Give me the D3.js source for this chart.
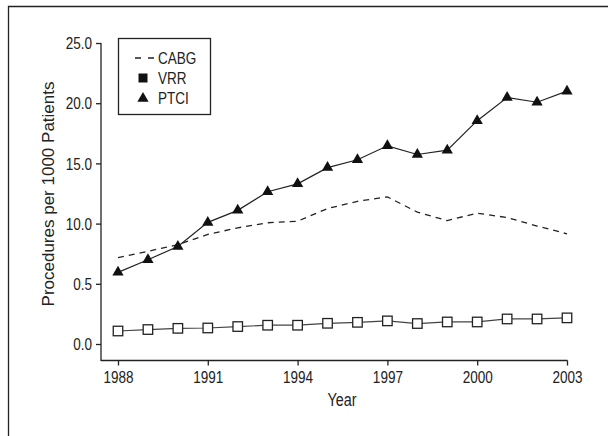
<!DOCTYPE html>
<html>
<head>
<meta charset="utf-8">
<script src="https://cdn.jsdelivr.net/npm/d3@7"></script>
<style>
    body { margin: 0; background: #fff; }
    svg { display: block; }
    text { font-family: "Liberation Sans", Arial, sans-serif; fill: #222; }
</style>
</head>
<body>
<div id="chart"></div>
<script>
    // chart data
    var years = [1988, 1989, 1990, 1991, 1992, 1993, 1994, 1995, 1996, 1997, 1998, 1999, 2000, 2001, 2002, 2003];
    var cabg = [7.17, 7.7, 8.25, 9.1, 9.65, 10.07, 10.2, 11.25, 11.85, 12.22, 10.95, 10.25, 10.87, 10.5, 9.8, 9.15];
    var vrr = [1.08, 1.2, 1.3, 1.33, 1.45, 1.56, 1.56, 1.72, 1.8, 1.92, 1.7, 1.83, 1.83, 2.08, 2.08, 2.17];
    var ptci = [5.95, 7.0, 8.1, 10.1, 11.1, 12.65, 13.3, 14.65, 15.3, 16.46, 15.74, 16.1, 18.55, 20.47, 20.08, 21.0];
    var xTicks = [1988, 1991, 1994, 1997, 2000, 2003];
    var yTicks = [0, 5, 10, 15, 20, 25];
    var yTickLabels = ["0.0", "0.5", "10.0", "15.0", "20.0", "25.0"];
    var legendNames = ["CABG", "VRR", "PTCI"];

    var width = 608, height = 436;
    var ink = "#222";
    var sx = 0.82; // horizontal squeeze to mimic the narrow typeface

    var svg = d3.select("#chart").append("svg")
        .attr("width", width)
        .attr("height", height);

    // outer frame (left and top edges only are visible)
    svg.append("path")
        .attr("d", "M8.5," + height + "V6.5H" + width)
        .attr("fill", "none")
        .attr("stroke", ink)
        .attr("stroke-width", 1.3);

    var xScale = d3.scaleLinear().domain([1988, 2003]).range([118, 567]);
    var yScale = d3.scaleLinear().domain([0, 25]).range([344, 43]);
    var axisY = 360.5, axisX = 101;

    // x-axis
    var xAxis = d3.axisBottom(xScale)
        .tickValues(xTicks)
        .tickFormat(d3.format("d"))
        .tickSizeInner(5)
        .tickSizeOuter(0);

    var gx = svg.append("g")
        .attr("transform", "translate(0," + axisY + ")")
        .call(xAxis);
    gx.select(".domain").attr("d", "M" + axisX + ",0H" + (xScale(2003) + 0.5));
    gx.selectAll(".tick text")
        .attr("y", 22.5)
        .attr("dy", null);

    // y-axis
    var yAxis = d3.axisLeft(yScale)
        .tickValues(yTicks)
        .tickFormat(function (d, i) { return yTickLabels[i]; })
        .tickSizeInner(5)
        .tickSizeOuter(0);

    var gy = svg.append("g")
        .attr("transform", "translate(" + axisX + ",0)")
        .call(yAxis);
    gy.select(".domain").attr("d", "M0," + yScale(25) + "V" + (axisY + 0.5));
    gy.selectAll(".tick text")
        .attr("x", -9 / sx)
        .attr("dy", "0.35em");

    svg.selectAll(".domain, .tick line")
        .attr("stroke", ink)
        .attr("stroke-width", 1.3);
    svg.selectAll(".tick text")
        .style("font-size", "16.5px")
        .attr("fill", ink)
        .attr("transform", "scale(" + sx + ",1)");

    // axis titles
    svg.append("text")
        .attr("transform", "translate(342,406) scale(" + sx + ",1)")
        .attr("text-anchor", "middle")
        .style("font-size", "17.5px")
        .text("Year");

    svg.append("text")
        .attr("transform", "translate(54,194) rotate(-90)")
        .attr("text-anchor", "middle")
        .style("font-size", "17px")
        .text("Procedures per 1000 Patients");

    function series(values) {
        return values.map(function (v, i) { return { x: years[i], y: v }; });
    }

    var line = d3.line()
        .x(function (d) { return xScale(d.x); })
        .y(function (d) { return yScale(d.y); });

    // CABG dashed
    svg.append("path")
        .datum(series(cabg))
        .attr("d", line)
        .attr("fill", "none")
        .attr("stroke", ink)
        .attr("stroke-width", 1.3)
        .attr("stroke-dasharray", "6,5");

    // VRR line + squares
    svg.append("path")
        .datum(series(vrr))
        .attr("d", line)
        .attr("fill", "none")
        .attr("stroke", "#444")
        .attr("stroke-width", 1.2);

    svg.selectAll(".sq")
        .data(series(vrr))
        .enter()
        .append("rect")
        .attr("class", "sq")
        .attr("x", function (d) { return xScale(d.x) - 4.75; })
        .attr("y", function (d) { return yScale(d.y) - 4.75; })
        .attr("width", 9.5)
        .attr("height", 9.5)
        .attr("fill", "#fff")
        .attr("stroke", ink)
        .attr("stroke-width", 1.3);

    // PTCI line + triangles
    svg.append("path")
        .datum(series(ptci))
        .attr("d", line)
        .attr("fill", "none")
        .attr("stroke", ink)
        .attr("stroke-width", 1.2);

    var tri = d3.symbol().type(d3.symbolTriangle).size(55);
    svg.selectAll(".tri")
        .data(series(ptci))
        .enter()
        .append("path")
        .attr("class", "tri")
        .attr("transform", function (d) { return "translate(" + xScale(d.x) + "," + yScale(d.y) + ")"; })
        .attr("d", tri)
        .attr("fill", "#111");

    // legend
    var legend = svg.append("g");
    legend.append("rect")
        .attr("x", 118.5)
        .attr("y", 38.5)
        .attr("width", 92)
        .attr("height", 76)
        .attr("fill", "#fff")
        .attr("stroke", ink)
        .attr("stroke-width", 1.3);

    var rowY = [58, 78, 98];
    legend.selectAll(".ltext")
        .data(legendNames)
        .enter()
        .append("text")
        .attr("transform", function (d, i) { return "translate(158," + (rowY[i] + 6) + ") scale(" + sx + ",1)"; })
        .style("font-size", "16.5px")
        .text(function (d) { return d; });

    legend.append("line")
        .attr("x1", 135).attr("x2", 154)
        .attr("y1", rowY[0]).attr("y2", rowY[0])
        .attr("stroke", ink)
        .attr("stroke-width", 1.3)
        .attr("stroke-dasharray", "6,7");
    legend.append("rect")
        .attr("x", 138.5).attr("y", rowY[1] - 4.5)
        .attr("width", 9).attr("height", 9)
        .attr("fill", "#111");
    legend.append("path")
        .attr("transform", "translate(143,"+ (rowY[2] + 0.5) + ")")
        .attr("d", tri)
        .attr("fill", "#111");
</script>
</body>
</html>
